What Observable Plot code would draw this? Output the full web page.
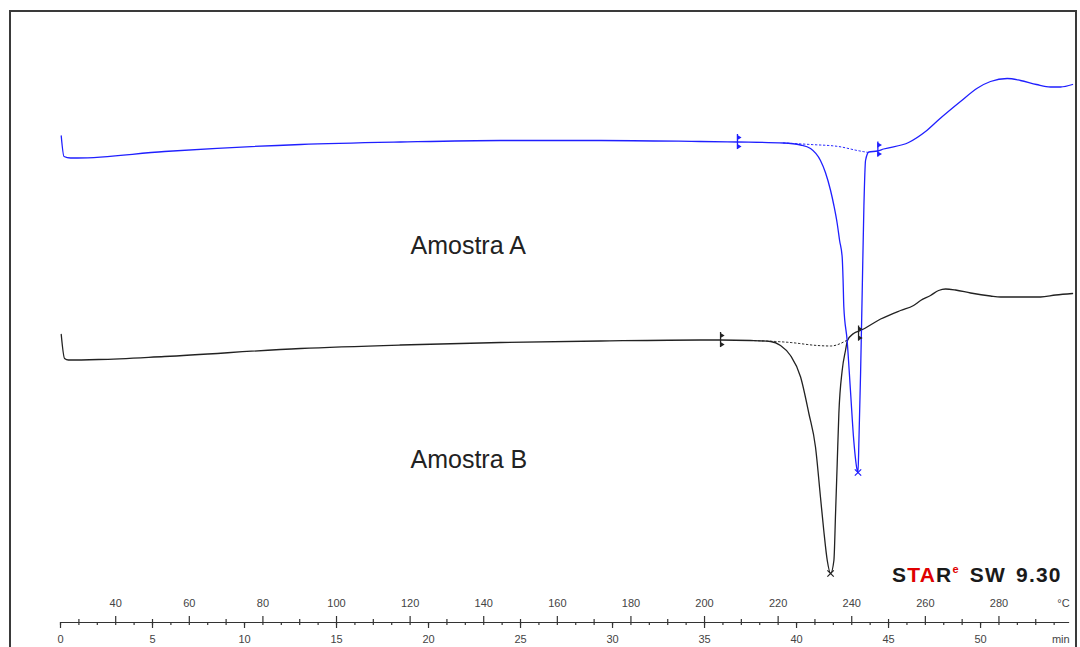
<!DOCTYPE html>
<html><head><meta charset="utf-8">
<script src="https://cdn.jsdelivr.net/npm/d3@7"></script>
<script src="https://cdn.jsdelivr.net/npm/@observablehq/plot@0.6"></script>
<style>
body{margin:0;background:#fff;width:1080px;height:647px;overflow:hidden;position:relative;font-family:"Liberation Sans",Arial,sans-serif}
#frame{position:absolute;left:9px;top:10px;width:1068px;height:700px;border:2px solid #3a3a3a;box-sizing:border-box}
#chart{position:absolute;left:0;top:0}
#logo{position:absolute;left:892px;top:562px;font-weight:bold;font-size:21px;line-height:26px;color:#1a1a1a;letter-spacing:1.2px;word-spacing:3px;white-space:nowrap}
#logo sup{color:#e00000;font-size:11px;position:relative;top:-1px;vertical-align:super;line-height:0}
</style></head><body>
<div id="frame"></div>
<div id="chart"></div>
<div id="logo">S<span style="color:#e00000">TA</span>R<sup>e</sup> SW 9.30</div>
<script>
// Time axis in minutes; temperature axis: T = startTemp + heatingRate * t
const startTemp = 25;
const heatingRate = 5;

// Heat flow in arbitrary units (no y axis in the original)
const blueTime = [0.04,0.19,0.54,0.92,5.65,13.04,18.48,23.91,29.35,34.78,36.79,39.29,40.22,40.76,41.30,41.57,41.85,42.03,42.21,42.34,42.48,42.53,42.57,42.75,42.93,43.11,43.30,43.34,43.39,43.48,43.57,43.66,43.75,43.93,44.40,44.73,46.09,47.01,47.77,48.91,49.84,50.54,51.45,52.17,53.04,53.80,54.35,55.00];
const blueHF   = [9.73,9.32,9.29,9.29,9.42,9.56,9.61,9.64,9.64,9.62,9.61,9.59,9.55,9.48,9.24,9.00,8.64,8.34,7.98,7.64,7.31,6.84,6.31,5.64,4.64,3.64,3.04,3.00,3.64,4.98,6.64,8.31,9.24,9.41,9.43,9.47,9.60,9.82,10.07,10.42,10.69,10.82,10.88,10.84,10.76,10.71,10.71,10.76];

const blackTime = [0.04,0.22,0.43,2.07,5.65,13.04,18.48,23.91,29.35,34.78,35.87,37.50,38.59,39.13,39.67,40.22,40.67,41.03,41.30,41.48,41.67,41.85,42.03,42.12,42.21,42.30,42.48,42.66,42.77,43.10,43.48,44.57,45.65,46.36,46.74,47.28,47.72,48.10,48.64,49.46,50.54,51.09,53.26,54.08,55.00];
const blackHF   = [5.76,5.28,5.25,5.26,5.32,5.48,5.55,5.60,5.63,5.65,5.65,5.64,5.62,5.54,5.34,4.91,4.18,3.51,2.51,1.84,1.24,0.98,1.24,2.18,3.18,4.18,5.04,5.44,5.64,5.78,5.84,6.07,6.24,6.34,6.44,6.54,6.64,6.67,6.65,6.59,6.53,6.51,6.51,6.55,6.58];

// Integration baselines (dotted)
const blueBaseTime = [39.29,40.76,42.28,43.30,43.91];
const blueBaseHF   = [9.59,9.56,9.52,9.44,9.40];
const blackBaseTime = [37.50,39.67,41.14,41.85,42.72];
const blackBaseHF   = [5.64,5.60,5.54,5.53,5.64];

// Integration limit markers
const blueLimitTime = [36.79,44.42];
const blueLimitHF   = [9.61,9.46];
const blackLimitTime = [35.87,43.37];
const blackLimitHF   = [5.65,5.78];

// Peak markers
const bluePeakTime = [43.34];
const bluePeakHF = [3.00];
const blackPeakTime = [41.85];
const blackPeakHF = [0.98];

// Labels
const sampleNames = ["Amostra A","Amostra B"];
const sampleLabelTime = [19.02,19.02];
const sampleLabelHF = [7.54,3.26];

// Axis ticks
const tempMajor = [40,60,80,100,120,140,160,180,200,220,240,260,280];
const tempMinor = [30,50,70,90,110,130,150,170,190,210,230,250,270,290];
const minMajor = [0,5,10,15,20,25,30,35,40,45,50];
const minMinor = d3.range(0,55,1);
const axisRange = [0,54.84];
const unitLabels = ["°C","min"];

const toMin = T => (T - startTemp) / heatingRate;
const zip = (a,b) => a.map((t,i)=>({t, hf:b[i]}));
const blue = zip(blueTime, blueHF), black = zip(blackTime, blackHF);
const blueBase = zip(blueBaseTime, blueBaseHF), blackBase = zip(blackBaseTime, blackBaseHF);
const limits = [...zip(blueLimitTime, blueLimitHF).map(d=>({...d,c:"#1f1fff"})), ...zip(blackLimitTime, blackLimitHF).map(d=>({...d,c:"#222"}))];
const peaks = [...zip(bluePeakTime, bluePeakHF).map(d=>({...d,c:"#1f1fff"})), ...zip(blackPeakTime, blackPeakHF).map(d=>({...d,c:"#222"}))];
const labels = sampleNames.map((s,i)=>({s, t:sampleLabelTime[i], hf:sampleLabelHF[i]}));

const W = 1080, H = 647, mT = 11, mB = 25;
const frameH = H - mT - mB;
const axisColor = "#333";

const chart = Plot.plot({
  width: W, height: H,
  marginLeft: 60, marginRight: 5, marginTop: mT, marginBottom: mB,
  x: {domain: [0, 55.16], axis: null},
  y: {domain: [0, 12.22], axis: null},
  style: {background: "transparent", fontFamily: "Liberation Sans, Arial, sans-serif", overflow: "visible"},
  marks: [
    // axis line
    Plot.ruleY([0], {x1: () => axisRange[0], x2: () => axisRange[1], stroke: axisColor, strokeWidth: 1.2}),
    // temperature ticks (upwards)
    Plot.ruleX(tempMajor, {x: toMin, insetTop: frameH - 6, stroke: axisColor, strokeWidth: 1.2}),
    Plot.ruleX(tempMinor, {x: toMin, insetTop: frameH - 3, stroke: axisColor, strokeWidth: 1.2}),
    // minute ticks (downwards)
    Plot.ruleX(minMajor, {x: d => d, insetTop: frameH, insetBottom: -6, stroke: axisColor, strokeWidth: 1.2}),
    Plot.ruleX(minMinor, {x: d => d, insetTop: frameH, insetBottom: -3, stroke: axisColor, strokeWidth: 1.2}),
    // tick labels
    Plot.text(tempMajor, {x: toMin, text: d => String(d), frameAnchor: "bottom", dy: -16, fontSize: 11, fill: "#444"}),
    Plot.text(minMajor, {x: d => d, text: d => String(d), frameAnchor: "bottom", dy: 20, fontSize: 11, fill: "#444"}),
    Plot.text([unitLabels[0]], {x: () => axisRange[1], text: d => d, frameAnchor: "bottom", dy: -16, textAnchor: "end", fontSize: 11, fill: "#444"}),
    Plot.text([unitLabels[1]], {x: () => axisRange[1], text: d => d, frameAnchor: "bottom", dy: 20, textAnchor: "end", fontSize: 11, fill: "#444"}),
    // dotted baselines
    Plot.line(blueBase, {x: "t", y: "hf", stroke: "#1f1fff", strokeWidth: 1, strokeDasharray: "1.5,2.5", curve: "monotone-x"}),
    Plot.line(blackBase, {x: "t", y: "hf", stroke: "#222", strokeWidth: 1, strokeDasharray: "1.5,2.5", curve: "monotone-x"}),
    // curves
    Plot.line(black, {x: "t", y: "hf", stroke: "#222", strokeWidth: 1.3, curve: "monotone-x"}),
    Plot.line(blue, {x: "t", y: "hf", stroke: "#1f1fff", strokeWidth: 1.3, curve: "monotone-x"}),
    // limit markers
    Plot.ruleX(limits, {x: "t", y1: d => d.hf - 0.15, y2: d => d.hf + 0.15, stroke: "c", strokeWidth: 1.3}),
    Plot.dot(limits, {x: "t", y: d => d.hf + 0.09, symbol: "triangle", r: 2, rotate: 90, fill: "c", stroke: "none", dx: 1}),
    Plot.dot(limits, {x: "t", y: d => d.hf - 0.09, symbol: "triangle", r: 2, rotate: 90, fill: "c", stroke: "none", dx: 1}),
    // peak markers
    Plot.dot(peaks, {x: "t", y: "hf", symbol: "times", r: 3, stroke: "c", strokeWidth: 1.2}),
    // sample labels
    Plot.text(labels, {x: "t", y: "hf", text: "s", textAnchor: "start", fontSize: 25, fill: "#222"})
  ]
});
document.getElementById("chart").appendChild(chart);
</script>
</body></html>
